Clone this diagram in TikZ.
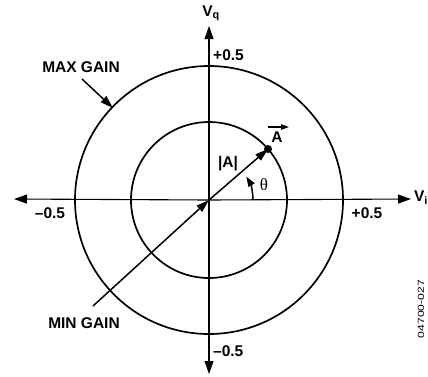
\documentclass[tikz,border=0pt]{standalone}
\usepackage{fontspec}
\setmainfont{Liberation Sans}
\newfontfamily\serifth{Liberation Serif}
\usetikzlibrary{arrows.meta}
\begin{document}
\begin{tikzpicture}[x=1pt,y=-1pt,
  lbl/.style={font=\fontsize{15.5}{15.5}\selectfont\bfseries, inner sep=0pt},
  axis/.style={line width=1.1pt, -{Triangle[length=13pt,width=9pt]}},
  circ/.style={line width=1.7pt},
  ptr/.style={line width=1.5pt, -{Triangle[length=13pt,width=8pt]}}]
\useasboundingbox (0,0) rectangle (428,376);
\coordinate (O) at (209,200);
\coordinate (L) at (14,199);
\coordinate (R) at (411,199);
\coordinate (T) at (209,26);
\coordinate (B) at (209,374);
\draw[circ] (O) circle[radius=134];
\draw[circ] (O) circle[radius=78];
\draw[axis] (O) -- (L);
\draw[axis] (O) -- (R);
\draw[axis] (O) -- (T);
\draw[axis] (O) -- (B);
% labels
\node[lbl] (vq) at (211,13) {V\textsubscript{q}};
\node[lbl] (vi) at (421,198) {V\textsubscript{i}};
\node[lbl, anchor=west] (pt) at (213,55) {+0.5};
\node[lbl] (ml) at (50,213) {–0.5};
\node[lbl] (pr) at (367,213) {+0.5};
\node[lbl, anchor=west] (mb) at (213,351) {–0.5};
\node[lbl] (max) at (81,67) {MAX GAIN};
\node[lbl] (min) at (84,323) {MIN GAIN};
\coordinate (maxs) at (82,79);
\coordinate (maxe) at (113,108);
\draw[ptr] (maxs) -- (maxe);
\coordinate (mins) at (93,306);
\draw[ptr] (mins) -- (O);
% vector A
\coordinate (A) at (268,149);
\draw[ptr] (O) -- (A);
\fill (A) circle[radius=4];
\node[lbl] (Al) at (277,137) {A};
\draw[line width=1.2pt, -{Triangle[length=8pt,width=5.5pt]}] (268,127) -- (289,127);
\node[lbl] (absA) at (228,164) {|A|};
% theta
\draw[line width=1.5pt, -{Triangle[length=10pt,width=7pt]}] (253,200) arc[start angle=0, end angle=-32, radius=44];
\node[font=\fontsize{17}{17}\selectfont\serifth] (th) at (264,185) {θ};
\node[font=\fontsize{9}{9}\selectfont, rotate=90] (id) at (421,309) {\scalebox{1.35}[1]{04700-027}};
\end{tikzpicture}
\end{document}
